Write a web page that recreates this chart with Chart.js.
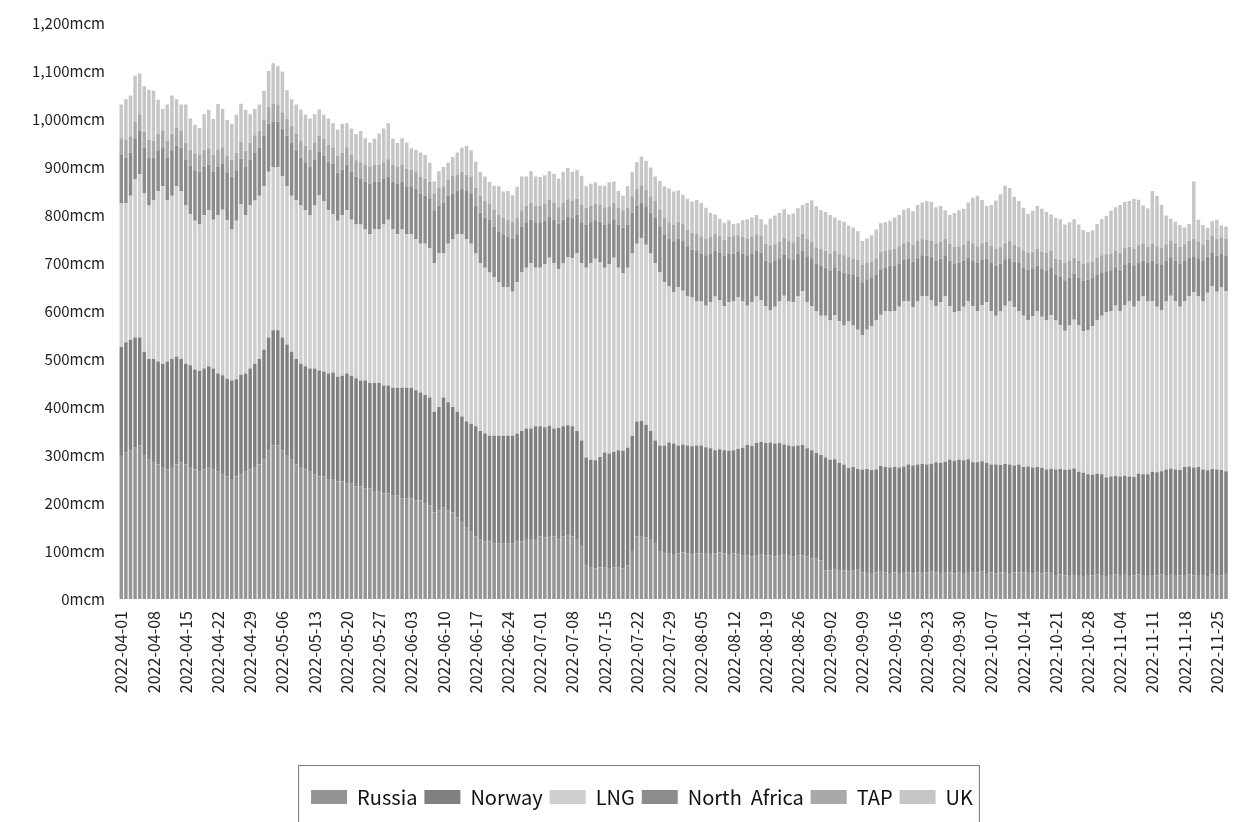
<!DOCTYPE html>
<html>
<head>
<meta charset="utf-8">
<script src="https://cdn.jsdelivr.net/npm/chart.js@4"></script>
<style>
  html, body { margin: 0; padding: 0; background: #fff; }
  #wrap { width: 1240px; height: 822px; }
</style>
</head>
<body>
<div id="wrap"><canvas id="gas"></canvas></div>
<script>
// daily dates, 2022-04-01 .. 2022-11-27
const days = [];
for (let d = new Date(Date.UTC(2022, 3, 1)); d <= new Date(Date.UTC(2022, 10, 27)); d.setUTCDate(d.getUTCDate() + 1)) {
    days.push(d.toISOString().slice(0, 10));
}

const seriesNames = ['Russia', 'Norway', 'LNG', 'North  Africa', 'TAP', 'UK'];
const yTicks = [0, 100, 200, 300, 400, 500, 600, 700, 800, 900, 1000, 1100, 1200];

// mcm per day, one line per week (Fri..Thu)
const russia = [
    300,305,310,315,320,300,290, 285,280,275,270,275,280,285, 280,275,270,265,270,275,270,
    265,260,255,250,255,260,265, 270,275,280,290,310,320,320, 310,300,290,280,275,270,265,
    260,255,255,250,250,245,245, 240,240,235,235,230,230,225, 225,220,220,215,215,210,210,
    210,205,205,200,195,180,185, 190,185,180,170,160,150,140, 130,125,120,120,115,115,115,
    115,115,120,120,125,125,125, 130,128,131,130,127,130,132, 130,125,110,70,65,64,66,
    65,63,66,65,64,70,100, 130,131,128,125,115,100,95, 96,94,95,97,95,93,95,
    95,96,94,95,97,95,94, 95,93,90,91,89,90,92, 90,91,89,90,92,90,88,
    90,91,89,85,84,80,60, 60,61,59,60,58,60,61, 55,56,54,55,57,55,54,
    55,54,56,55,53,55,56, 55,57,55,54,56,55,53, 55,54,56,55,55,57,54,
    55,53,55,56,54,55,55, 55,56,54,55,53,55,56, 50,51,49,50,52,50,48,
    50,49,51,50,48,50,51, 50,52,50,49,51,50,50, 50,49,51,50,52,50,49,
    50,51,49,50,50,48,51, 50,49,51
];
const norway = [
    225,230,230,230,225,215,210, 215,215,215,225,225,225,215, 210,212,208,210,210,210,210,
    205,206,204,205,203,207,205, 210,215,220,230,235,240,240, 235,230,225,220,215,215,215,
    220,221,219,220,222,218,220, 230,225,225,220,225,220,225, 225,225,225,225,225,230,230,
    230,230,225,225,225,210,215, 230,225,220,220,220,220,225, 230,225,225,220,225,225,225,
    225,225,225,230,230,230,235, 230,230,230,225,230,230,230, 230,225,220,225,225,225,230,
    240,240,240,245,245,245,240, 240,240,235,225,215,220,225, 230,230,225,225,225,225,225,
    225,220,220,215,215,215,215, 215,220,225,230,230,235,235, 235,235,235,235,230,230,230,
    230,230,225,225,220,220,235, 230,230,225,220,215,215,210, 215,215,215,215,220,220,220,
    220,220,220,225,225,225,225, 225,225,230,230,230,235,235, 235,235,235,230,230,230,230,
    225,227,224,225,226,223,225, 220,220,220,220,220,215,215, 220,220,220,220,220,215,215,
    210,210,210,210,205,205,205, 205,205,205,205,210,210,210, 215,215,215,220,220,220,220,
    225,225,225,225,220,220,220, 220,220,215
];
const lng = [
    300,290,300,330,340,330,320, 330,355,370,335,340,355,350, 330,315,310,305,320,325,310,
    330,345,330,315,330,355,330, 340,340,340,340,345,340,340, 335,330,325,330,330,325,320,
    340,365,355,340,330,325,335, 340,325,320,325,315,310,320, 320,335,345,330,320,330,320,
    320,315,310,315,310,310,320, 300,330,350,370,380,380,375, 360,350,345,340,330,320,310,
    310,300,315,330,335,345,330, 330,340,350,345,330,340,350, 350,370,370,395,410,420,405,
    385,395,405,380,370,375,380, 370,380,375,370,370,360,340, 325,315,330,320,310,310,300,
    300,295,305,320,310,300,310, 310,315,305,290,300,305,295, 285,275,285,295,310,300,300,
    310,320,305,300,295,290,295, 290,300,295,290,305,295,290, 280,290,300,310,315,325,325,
    325,335,345,340,330,340,350, 350,340,325,335,345,320,310, 310,320,330,325,315,325,335,
    320,310,320,330,340,330,320, 315,305,315,325,315,310,320, 310,300,290,300,310,305,295,
    300,310,320,330,345,345,355, 345,355,365,355,360,370,360, 355,345,335,350,360,350,340,
    345,355,365,355,350,370,380, 370,380,375
];
const northAfrica = [
    100,95,90,85,90,95,100, 90,85,80,90,95,85,90, 95,100,105,110,100,95,100,
    100,95,100,110,105,95,100, 95,100,100,105,100,95,95, 100,105,110,105,100,100,100,
    95,90,95,100,105,100,95, 95,100,100,95,100,105,100, 100,95,90,100,105,100,100,
    100,105,105,100,105,110,100, 105,100,95,90,95,100,105, 100,105,105,110,105,105,110,
    105,110,100,95,95,90,95, 95,90,85,90,95,90,85, 85,80,85,90,85,80,85,
    90,85,80,90,95,90,85, 80,75,80,85,95,95,100, 100,105,100,105,105,100,105,
    100,105,100,95,100,105,100, 100,95,100,105,100,95,100, 95,100,95,90,85,90,90,
    90,85,95,100,100,105,100, 105,100,105,110,100,105,110, 110,105,100,95,95,90,95,
    95,90,85,90,95,90,85, 85,90,95,90,85,95,100, 100,95,90,95,100,95,90,
    100,105,100,95,90,95,100, 100,105,100,95,100,105,100, 95,100,105,100,95,100,105,
    105,100,95,90,85,85,80, 85,85,80,85,80,75,80, 85,90,95,85,80,85,90,
    85,80,75,80,85,75,70, 75,70,75
];
const tap = [
    35,36,34,35,35,33,36, 34,35,36,35,34,36,35, 35,34,35,36,35,34,35,
    36,35,34,35,36,35,34, 35,36,35,34,35,36,35, 34,35,36,35,35,34,36,
    35,34,35,36,34,35,35, 36,35,34,35,35,36,34, 35,35,36,34,35,35,36,
    34,36,35,35,34,35,36, 35,34,36,35,35,34,35, 36,35,35,34,36,35,34,
    35,36,34,35,35,36,35, 34,35,35,36,34,35,36, 35,34,36,35,35,34,35,
    36,35,34,35,36,35,34, 35,36,35,34,35,36,35, 34,35,36,35,34,35,36,
    35,34,35,36,35,34,35, 36,35,34,35,36,35,34, 35,36,35,34,35,36,35,
    34,35,36,35,34,35,36, 35,34,35,36,35,34,35, 36,35,34,35,36,35,34,
    35,36,35,34,35,36,35, 34,35,36,35,34,35,36, 35,34,35,36,35,34,35,
    36,35,34,35,36,35,34, 35,36,35,34,35,36,35, 34,35,36,35,34,35,36,
    35,34,35,36,35,34,35, 36,35,34,35,36,35,34, 35,36,35,34,35,36,35,
    34,35,36,35,34,35,36, 35,34,35
];
const uk = [
    70,85,85,95,85,95,105, 105,70,45,75,80,60,55, 80,65,60,55,75,80,75,
    95,80,75,75,80,80,85, 60,55,55,60,75,85,80, 85,60,55,60,65,65,65,
    60,55,50,55,50,55,60, 50,55,55,65,55,50,55, 65,70,75,55,50,55,55,
    45,45,50,50,40,25,35, 40,35,40,45,50,60,55, 55,50,50,45,50,60,55,
    60,55,65,70,60,65,60, 60,60,60,60,60,65,65, 60,60,60,45,45,45,40,
    45,50,45,35,30,45,50, 55,60,60,60,50,60,65, 70,70,65,60,65,65,70,
    70,65,50,40,35,35,35, 25,25,35,40,40,40,35, 40,55,60,60,60,55,60,
    60,60,75,85,85,80,80, 80,70,70,70,65,65,60, 50,50,55,60,60,60,60,
    65,65,70,70,70,75,75, 80,80,75,75,60,60,70, 75,75,80,95,105,90,75,
    85,100,110,120,110,100,95, 90,80,85,90,90,85,75, 85,85,80,80,80,75,70,
    65,65,70,75,80,90,90, 100,95,95,105,95,80,80, 110,105,90,60,45,45,45,
    35,35,120,45,40,25,30, 40,25,25
];

const seriesValues = [russia, norway, lng, northAfrica, tap, uk];
const seriesColors = ['#949494', '#808080', '#cfcfcf', '#8c8c8c', '#a9a9a9', '#c6c6c6'];

const font = '"Noto Sans CJK JP", "Noto Sans", sans-serif';
const legendShift = 22;

// the legend sits a bit right of centre in the original, with a thin frame round it
const legendFrame = {
    id: 'legendFrame',
    afterLayout(chart) {
        chart.legend.left += legendShift;
        chart.legend.right += legendShift;
    },
    afterDraw(chart) {
        const boxes = chart.legend.legendHitBoxes;
        if (!boxes || !boxes.length) return;
        const x0 = Math.min(...boxes.map(b => b.left)) - 13;
        const x1 = Math.max(...boxes.map(b => b.left + b.width)) + 6;
        const yc = boxes[0].top + boxes[0].height / 2;
        const c = chart.ctx;
        c.save();
        c.strokeStyle = '#777';
        c.lineWidth = 1;
        c.strokeRect(x0 + 0.5, yc - 32 + 0.5, x1 - x0, 66);
        c.restore();
    }
};

new Chart(document.getElementById('gas').getContext('2d'), {
    type: 'bar',
    data: {
        labels: days,
        datasets: seriesNames.map((name, i) => ({
            label: name,
            data: seriesValues[i],
            backgroundColor: seriesColors[i],
            borderWidth: 0,
            barPercentage: 0.76,
            categoryPercentage: 1.0
        }))
    },
    options: {
        responsive: true,
        maintainAspectRatio: false,
        animation: false,
        layout: { padding: { top: 23, right: 0, left: 0, bottom: 5 } },
        plugins: {
            tooltip: { enabled: false },
            legend: {
                position: 'bottom',
                labels: {
                    color: '#111',
                    font: { family: font, size: 20 },
                    boxWidth: 36,
                    boxHeight: 14,
                    padding: 7
                }
            }
        },
        scales: {
            x: {
                stacked: true,
                grid: { display: false },
                border: { display: false },
                afterFit(scale) { scale.height = 181; },
                ticks: {
                    autoSkip: false,
                    maxRotation: 90,
                    minRotation: 90,
                    color: '#222',
                    font: { family: font, size: 16 },
                    padding: 4,
                    callback(value, index) {
                        return index % 7 === 0 ? days[index] : null;
                    }
                }
            },
            y: {
                stacked: true,
                min: 0,
                max: 1200,
                grid: { display: false },
                border: { display: false },
                afterFit(scale) { scale.width = 119; },
                afterBuildTicks(scale) { scale.ticks = yTicks.map(v => ({ value: v })); },
                ticks: {
                    color: '#222',
                    font: { family: font, size: 15 },
                    padding: 6,
                    callback: v => v.toLocaleString('en-US') + 'mcm'
                }
            }
        }
    },
    plugins: [legendFrame]
});
</script>
</body>
</html>
